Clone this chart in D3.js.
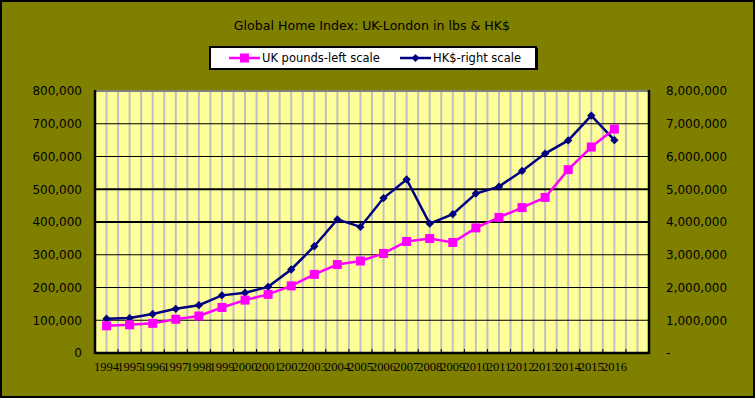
<!DOCTYPE html>
<html>
<head>
<meta charset="utf-8">
<script src="https://cdn.jsdelivr.net/npm/d3@7"></script>
<style>
    body { margin: 0; padding: 0; background: #fff; }
    svg { display: block; }
</style>
</head>
<body>
<svg id="chart"></svg>
<script>
// data
const years = ['1994', '1995', '1996', '1997', '1998', '1999', '2000', '2001', '2002', '2003', '2004', '2005',
    '2006', '2007', '2008', '2009', '2010', '2011', '2012', '2013', '2014', '2015', '2016'];
const ukPounds = [83000, 86000, 90500, 103000, 113000, 139000, 161500, 179000, 205000, 240000, 270000, 281000,
    304000, 340500, 349500, 337500, 382000, 414000, 444000, 475000, 560000, 629000, 684000];
const hkDollars = [1046000, 1067000, 1190000, 1350000, 1460000, 1760000, 1840000, 2020000, 2550000, 3260000, 4080000, 3850000,
    4730000, 5300000, 3950000, 4240000, 4870000, 5080000, 5560000, 6090000, 6490000, 7250000, 6500000];
const leftTicks = [0, 100000, 200000, 300000, 400000, 500000, 600000, 700000, 800000];
const rightTicks = [0, 1000000, 2000000, 3000000, 4000000, 5000000, 6000000, 7000000, 8000000];
const titleText = 'Global Home Index: UK-London in lbs & HK$';
const seriesNames = ['UK pounds-left scale', 'HK$-right scale'];

class DualAxisChart {
    constructor(_config) {
        this.config = {
            parentElement: _config.parentElement,
            containerWidth: _config.containerWidth || 755,
            containerHeight: _config.containerHeight || 398,
            margin: {top: 91, right: 106, bottom: 45, left: 95}
        };
        this.initVis();
    }

    initVis() {
        let vis = this;
        vis.width = vis.config.containerWidth - vis.config.margin.left - vis.config.margin.right;
        vis.height = vis.config.containerHeight - vis.config.margin.top - vis.config.margin.bottom;

        vis.svg = d3.select(vis.config.parentElement)
            .attr('width', vis.config.containerWidth)
            .attr('height', vis.config.containerHeight);

        // olive background + outer frame
        vis.svg.append('rect')
            .attr('x', 1).attr('y', 1)
            .attr('width', vis.config.containerWidth - 2)
            .attr('height', vis.config.containerHeight - 2)
            .attr('fill', '#808000')
            .attr('stroke', '#000')
            .attr('stroke-width', 2);

        vis.svg.append('text')
            .attr('x', 372).attr('y', 29.5)
            .attr('text-anchor', 'middle')
            .style('font-family', 'DejaVu Sans, Verdana, sans-serif')
            .style('font-size', '12.6px')
            .attr('fill', '#000')
            .text(titleText);

        vis.chart = vis.svg.append('g')
            .attr('transform', `translate(${vis.config.margin.left}, ${vis.config.margin.top})`);

        // one spare slot at the end like the original category axis
        vis.xScale = d3.scaleBand()
            .domain(years.concat(['']))
            .range([0, vis.width]);

        vis.yLeft = d3.scaleLinear().domain([0, 800000]).range([vis.height, 0]);
        vis.yRight = d3.scaleLinear().domain([0, 8000000]).range([vis.height, 0]);

        vis.updateVis();
        vis.drawLegend();
    }

    updateVis() {
        let vis = this;
        let step = vis.xScale.step();

        vis.chart.append('rect')
            .attr('width', vis.width)
            .attr('height', vis.height)
            .attr('fill', '#FFFF99');

        // gray verticals at band edges and centres
        let vLines = [];
        vis.xScale.domain().forEach(d => {
            vLines.push(vis.xScale(d));
            vLines.push(vis.xScale(d) + step / 2);
        });
        vis.chart.selectAll('.vgrid')
            .data(vLines)
            .join('line')
                .attr('class', 'vgrid')
                .attr('x1', d => d).attr('x2', d => d)
                .attr('y1', 0).attr('y2', vis.height)
                .attr('stroke', '#C0C0C0')
                .attr('stroke-width', 2);

        vis.chart.selectAll('.hgrid')
            .data(leftTicks.filter(d => d > 0 && d < 800000))
            .join('line')
                .attr('class', 'hgrid')
                .attr('x1', 0).attr('x2', vis.width)
                .attr('y1', d => vis.yLeft(d)).attr('y2', d => vis.yLeft(d))
                .attr('stroke', '#000')
                .attr('stroke-width', d => (d == 400000 || d == 500000) ? 2 : 1.2);

        // plot frame: gray top, black axes
        vis.chart.append('line')
            .attr('x1', 0).attr('x2', vis.width).attr('y1', 0).attr('y2', 0)
            .attr('stroke', '#808080').attr('stroke-width', 2);

        // tick marks on the category axis, pointing inwards
        vis.chart.selectAll('.xtick')
            .data(vis.xScale.domain().slice(1))
            .join('line')
                .attr('class', 'xtick')
                .attr('x1', d => vis.xScale(d)).attr('x2', d => vis.xScale(d))
                .attr('y1', vis.height).attr('y2', vis.height - 4)
                .attr('stroke', '#000')
                .attr('stroke-width', 1);

        vis.xAxis = d3.axisBottom(vis.xScale).tickSize(0).tickPadding(9)
            .tickFormat(d => d);
        vis.xAxisGroup = vis.chart.append('g')
            .attr('class', 'axis x-axis')
            .attr('transform', `translate(0, ${vis.height})`)
            .call(vis.xAxis);
        vis.xAxisGroup.select('.domain').remove();
        vis.xAxisGroup.selectAll('text')
            .style('font-family', 'Liberation Serif, Times New Roman, serif')
            .style('font-size', '12.5px')
            .attr('fill', '#000');

        vis.yAxisLeft = d3.axisLeft(vis.yLeft).tickValues(leftTicks).tickSize(0).tickPadding(13)
            .tickFormat(d3.format(','));
        vis.yAxisLeftGroup = vis.chart.append('g')
            .attr('class', 'axis y-axis')
            .call(vis.yAxisLeft);

        vis.yAxisRight = d3.axisRight(vis.yRight).tickValues(rightTicks).tickSize(0).tickPadding(17)
            .tickFormat(d => d == 0 ? '-' : d3.format(',')(d));
        vis.yAxisRightGroup = vis.chart.append('g')
            .attr('class', 'axis y-axis-right')
            .attr('transform', `translate(${vis.width}, 0)`)
            .call(vis.yAxisRight);

        [vis.yAxisLeftGroup, vis.yAxisRightGroup].forEach(g => {
            g.select('.domain').remove();
            g.selectAll('text')
                .style('font-family', 'DejaVu Sans, Verdana, sans-serif')
                .style('font-size', '12px')
                .attr('fill', '#000');
        });

        vis.chart.append('line')
            .attr('x1', 0).attr('x2', 0).attr('y1', -1).attr('y2', vis.height + 1)
            .attr('stroke', '#000').attr('stroke-width', 2.5);
        vis.chart.append('line')
            .attr('x1', vis.width).attr('x2', vis.width).attr('y1', -1).attr('y2', vis.height + 1)
            .attr('stroke', '#000').attr('stroke-width', 2.5);
        vis.chart.append('line')
            .attr('x1', 0).attr('x2', vis.width).attr('y1', vis.height).attr('y2', vis.height)
            .attr('stroke', '#000').attr('stroke-width', 2.5);

        let cx = (d, i) => vis.xScale(years[i]) + step / 2;

        // HK$ on the right scale
        let hkLine = d3.line()
            .x((d, i) => cx(d, i))
            .y(d => vis.yRight(d));
        vis.chart.append('path')
            .datum(hkDollars)
            .attr('d', hkLine)
            .attr('fill', 'none')
            .attr('stroke', '#000080')
            .attr('stroke-width', 2.5);
        vis.chart.selectAll('.hk-pt')
            .data(hkDollars)
            .join('path')
                .attr('class', 'hk-pt')
                .attr('d', d3.symbol().type(d3.symbolDiamond2).size(44))
                .attr('transform', (d, i) => `translate(${cx(d, i)}, ${vis.yRight(d)})`)
                .attr('fill', '#000080');

        // UK pounds on the left scale
        let ukLine = d3.line()
            .x((d, i) => cx(d, i))
            .y(d => vis.yLeft(d));
        vis.chart.append('path')
            .datum(ukPounds)
            .attr('d', ukLine)
            .attr('fill', 'none')
            .attr('stroke', '#FF00FF')
            .attr('stroke-width', 2.5);
        vis.chart.selectAll('.uk-pt')
            .data(ukPounds)
            .join('rect')
                .attr('class', 'uk-pt')
                .attr('x', (d, i) => cx(d, i) - 4.5)
                .attr('y', d => vis.yLeft(d) - 4.5)
                .attr('width', 9)
                .attr('height', 9)
                .attr('fill', '#FF00FF');
    }

    drawLegend() {
        let vis = this;
        let lg = vis.svg.append('g').attr('transform', 'translate(210, 47)');

        lg.append('rect')
            .attr('x', 1).attr('y', 1).attr('width', 327).attr('height', 22)
            .attr('fill', '#000');
        lg.append('rect')
            .attr('width', 326).attr('height', 22)
            .attr('fill', '#fff')
            .attr('stroke', '#000')
            .attr('stroke-width', 2);

        let items = [
            {name: seriesNames[0], color: '#FF00FF', x: 19, shape: 'square'},
            {name: seriesNames[1], color: '#000080', x: 190, shape: 'diamond'}
        ];

        items.forEach(it => {
            lg.append('line')
                .attr('x1', it.x).attr('x2', it.x + 31)
                .attr('y1', 11).attr('y2', 11)
                .attr('stroke', it.color).attr('stroke-width', 2.5);
            if (it.shape == 'square') {
                lg.append('rect')
                    .attr('x', it.x + 11).attr('y', 6.5)
                    .attr('width', 9).attr('height', 9)
                    .attr('fill', it.color);
            } else {
                lg.append('path')
                    .attr('d', d3.symbol().type(d3.symbolDiamond2).size(40))
                    .attr('transform', `translate(${it.x + 15.5}, 11)`)
                    .attr('fill', it.color);
            }
            lg.append('text')
                .attr('x', it.x + 33).attr('y', 15)
                .style('font-family', 'DejaVu Sans, Verdana, sans-serif')
                .style('font-size', '11.5px')
                .attr('fill', '#000')
                .text(it.name);
        });
    }
}

new DualAxisChart({parentElement: '#chart'});
</script>
</body>
</html>
